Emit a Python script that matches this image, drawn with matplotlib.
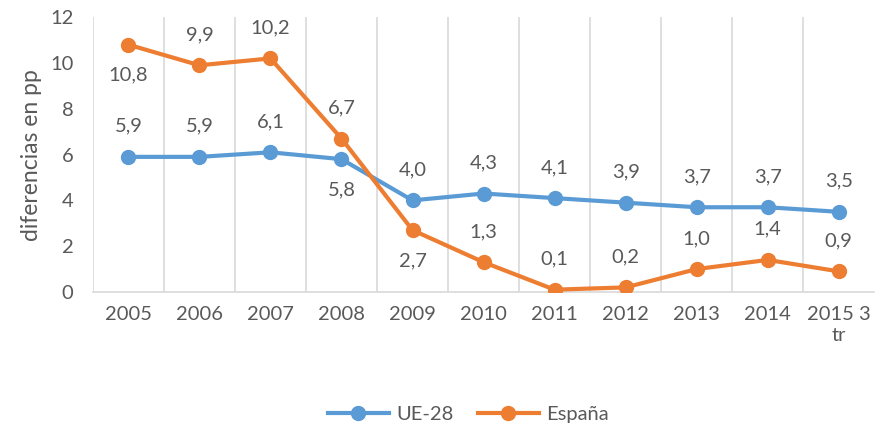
import matplotlib.pyplot as plt

years = ["2005", "2006", "2007", "2008", "2009", "2010", "2011", "2012", "2013", "2014", "2015 3\ntr"]
ue28 = [5.9, 5.9, 6.1, 5.8, 4.0, 4.3, 4.1, 3.9, 3.7, 3.7, 3.5]
espana = [10.8, 9.9, 10.2, 6.7, 2.7, 1.3, 0.1, 0.2, 1.0, 1.4, 0.9]
# label above (+1) or below (-1) the point
ue28_pos = [1, 1, 1, -1, 1, 1, 1, 1, 1, 1, 1]
espana_pos = [-1, 1, 1, 1, -1, 1, 1, 1, 1, 1, 1]

blue = "#5B9BD5"
orange = "#ED7D31"
grey_txt = "#595959"

plt.rcParams['font.family'] = ['Lato', 'DejaVu Sans']

fig = plt.figure(figsize=(8.76, 4.30), dpi=100)
ax = fig.add_axes([0.106, 0.321, 0.892, 0.639])

x = list(range(len(years)))
ax.plot(x, ue28, color=blue, lw=3, marker='o', ms=10, label="UE-28", zorder=3)
ax.plot(x, espana, color=orange, lw=3, marker='o', ms=10, label="España", zorder=3)

for xi, v, p in zip(x, ue28, ue28_pos):
    ax.annotate(f"{v:.1f}".replace(".", ","), (xi, v), xytext=(0, 22 * p), textcoords='offset points',
                ha='center', va='center', fontsize=14.5, color=grey_txt)
for xi, v, p in zip(x, espana, espana_pos):
    ax.annotate(f"{v:.1f}".replace(".", ","), (xi, v), xytext=(0, 22 * p), textcoords='offset points',
                ha='center', va='center', fontsize=14.5, color=grey_txt)

ax.set_xlim(-0.5, len(years) - 0.5)
ax.set_ylim(0, 12)
ax.set_yticks(range(0, 13, 2))
ax.set_xticks(x)
ax.set_xticklabels(years, fontsize=14.5, color=grey_txt, linespacing=1.3)
ax.tick_params(axis='y', labelsize=14.5, colors=grey_txt, length=0, pad=14)
ax.tick_params(axis='x', length=0, pad=10)
ax.set_xticks([i + 0.5 for i in range(-1, len(years) - 1)], minor=True)
ax.grid(True, which='minor', axis='x', color='#D9D9D9', lw=1.2)
ax.tick_params(which='minor', length=0)
for s in ['top', 'right', 'left']:
    ax.spines[s].set_visible(False)
ax.spines['bottom'].set_color('#D9D9D9')
ax.spines['bottom'].set_linewidth(1.2)

ax.set_ylabel("diferencias en pp", fontsize=16.5, color=grey_txt, labelpad=6)

fig.legend(loc='center', bbox_to_anchor=(0.535, 0.035), ncol=2, frameon=False,
           fontsize=14.5, labelcolor=grey_txt, handlelength=3, columnspacing=1.2, handletextpad=0.4)

fig.savefig("out.png", dpi=100)
